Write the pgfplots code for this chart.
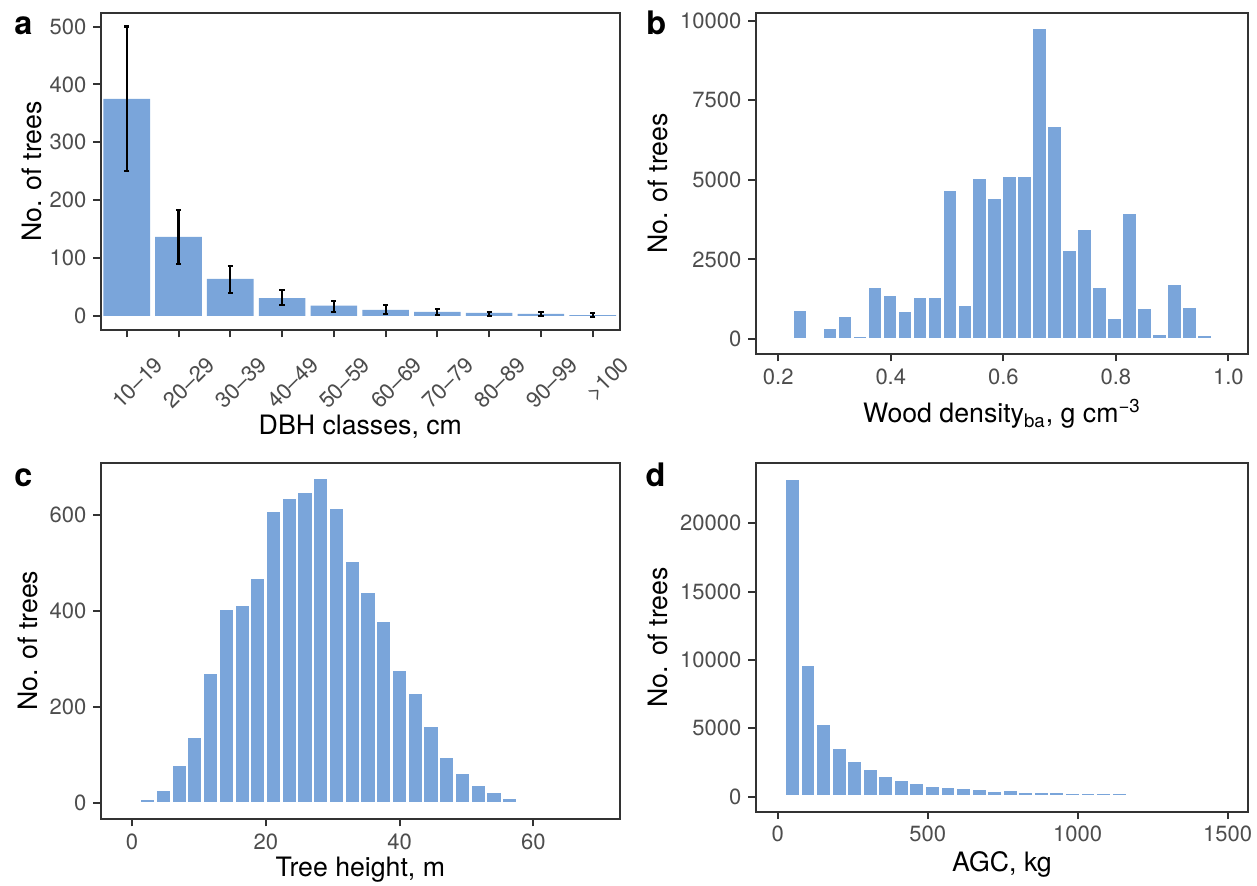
\documentclass[border=0pt]{standalone}
\usepackage{fontspec}
\setmainfont{TeX Gyre Heros}
\usepackage{pgfplots}
\usepackage{pgfplotstable}
\pgfplotsset{compat=1.18}
\definecolor{barblue}{RGB}{122,165,218}
\definecolor{axisgray}{RGB}{51,51,51}
\definecolor{tickgray}{RGB}{77,77,77}
\newcommand\tickfont{\fontsize{11}{13.2}\selectfont}
\newcommand\labfont{\fontsize{13.35}{16}\selectfont}
\newcommand\panelfont{\fontsize{16.2}{19}\selectfont\bfseries}

\pgfplotsset{
  panel/.style={
    scale only axis,
    scaled ticks=false,
    axis line style={draw=axisgray, line width=1pt},
    tick style={draw=axisgray, line width=1pt},
    major tick length=3.7pt,
    tick align=outside,
    tick pos=left,
    minor tick num=0,
    tick label style={font=\tickfont, text=tickgray},
    label style={font=\labfont, text=black},
  },
  histbar/.style={ybar, bar shift=0pt, fill=barblue, draw=white, line width=1.3pt},
}

% Panel b: wood density histogram (bin centre, count)
\pgfplotstableread{
x y
0.2385 934
0.2917 369
0.3184 725
0.3450 110
0.3716 1656
0.3982 1405
0.4248 903
0.4515 1332
0.4781 1332
0.5047 4689
0.5313 1070
0.5579 5055
0.5846 4440
0.6112 5118
0.6378 5129
0.6644 9773
0.6910 6687
0.7177 2820
0.7443 3465
0.7709 1640
0.7975 683
0.8241 3968
0.8508 986
0.8774 175
0.9040 1735
0.9306 1015
0.9572 125
}\tabB

% Panel c: tree height histogram
\pgfplotstableread{
x y
2.34 10
4.69 28
7.05 81
9.40 138
11.75 271
14.11 405
16.46 413
18.81 469
21.16 610
23.52 636
25.87 649
28.22 677
30.58 615
32.93 506
35.28 440
37.64 380
39.99 278
42.34 230
44.69 161
47.05 96
49.40 63
51.75 39
54.11 24
56.46 12
}\tabC

% Panel d: AGC histogram
\pgfplotstableread{
x y
49.1 23271
101.0 9661
152.8 5320
204.7 3612
256.5 2637
308.4 2051
360.2 1515
412.1 1250
463.9 1050
515.8 840
567.6 750
619.5 680
671.3 560
723.2 440
775.0 480
826.9 380
878.7 370
930.6 330
982.4 310
1034.3 300
1086.1 285
1138.0 275
1189.8 255
1293.5 215
}\tabD

\begin{document}
\begin{tikzpicture}
\useasboundingbox (0,0) rectangle (628.5pt,-443pt);

% ---------------- a ----------------
\begin{axis}[panel,
  at={(50.35pt,-6.35pt)}, anchor=north west,
  width=259.65pt, height=158.65pt,
  xmin=0.497, xmax=10.527, ymin=-24.2, ymax=524,
  xtick={1,...,10},
  xticklabels={10\textendash19,20\textendash29,30\textendash39,40\textendash49,50\textendash59,60\textendash69,70\textendash79,80\textendash89,90\textendash99,>100},
  xticklabel style={xshift=19pt, yshift=-14.5pt, rotate=45, anchor=base east, inner sep=0pt},
  ytick={0,100,200,300,400,500},
  yticklabels={0,100,200,300,400,500},
  xlabel={DBH classes, cm},
  ylabel={No. of trees},
  x label style={at={(axis description cs:0.5,-0.3309)}, anchor=base},
  y label style={at={(axis description cs:-0.1321,0.5)}, anchor=center},
]
\addplot[ybar, bar width=0.9, bar shift=0pt, fill=barblue, draw=none,
  error bars/.cd, y dir=both, y explicit,
  error bar style={line width=1.1pt, draw=black},
  error mark options={line width=1.1pt, draw=black, mark size=1.3pt, rotate=90}]
coordinates {
  (1,375)  += (0,125)  -= (0,125)
  (2,136.5) += (0,46.5) -= (0,47)
  (3,64)   += (0,22.4) -= (0,23.7)
  (4,31)   += (0,14)   -= (0,11.4)
  (5,17.8) += (0,8.7)  -= (0,10.9)
  (6,10.4) += (0,8)    -= (0,7.5)
  (7,6.9)  += (0,4.6)  -= (0,5.2)
  (8,5.2)  += (0,2.3)  -= (0,4.6)
  (9,3.5)  += (0,2.8)  -= (0,3.5)
  (10,1.7) += (0,3.5)  -= (0,2.9)
};
\end{axis}

% ---------------- b ----------------
\begin{axis}[panel,
  at={(377.85pt,-6.35pt)}, anchor=north west,
  width=246.3pt, height=170.65pt,
  xmin=0.1599, xmax=1.0354, ymin=-471, ymax=10251,
  xtick={0.2,0.4,0.6,0.8,1.0},
  xticklabels={0.2,0.4,0.6,0.8,1.0},
  ytick={0,2500,5000,7500,10000},
  yticklabels={0,2500,5000,7500,10000},
  xlabel={Wood density\textsubscript{ba}, g cm\textsuperscript{\textminus3}},
  ylabel={No. of trees},
  x label style={at={(axis description cs:0.5,-0.2013)}, anchor=base},
  y label style={at={(axis description cs:-0.1985,0.5)}, anchor=center},
]
\addplot[histbar, bar width=0.02662] table[x=x,y=y] {\tabB};
\end{axis}

% ---------------- c ----------------
\begin{axis}[panel,
  at={(50.35pt,-231.35pt)}, anchor=north west,
  width=259.65pt, height=178.15pt,
  xmin=-4.675, xmax=72.95, ymin=-32.7, ymax=709,
  xtick={0,20,40,60},
  xticklabels={0,20,40,60},
  ytick={0,200,400,600},
  yticklabels={0,200,400,600},
  xlabel={Tree height, m},
  ylabel={No. of trees},
  x label style={at={(axis description cs:0.5,-0.162)}, anchor=base},
  y label style={at={(axis description cs:-0.141,0.5)}, anchor=center},
]
\addplot[histbar, bar width=2.353] table[x=x,y=y] {\tabC};
\end{axis}

% ---------------- d ----------------
\begin{axis}[panel,
  at={(377.85pt,-231.35pt)}, anchor=north west,
  width=246.3pt, height=174.5pt,
  xmin=-73.3, xmax=1568.7, ymin=-1098, ymax=24439,
  xtick={0,500,1000,1500},
  xticklabels={0,500,1000,1500},
  ytick={0,5000,10000,15000,20000},
  yticklabels={0,5000,10000,15000,20000},
  xlabel={AGC, kg},
  ylabel={No. of trees},
  x label style={at={(axis description cs:0.5,-0.1719)}, anchor=base},
  y label style={at={(axis description cs:-0.1985,0.5)}, anchor=center},
]
\addplot[histbar, bar width=51.85] table[x=x,y=y] {\tabD};
\end{axis}

\node[anchor=base west, font=\panelfont, inner sep=0pt] at (7pt,-17.5pt) {a};
\node[anchor=base west, font=\panelfont, inner sep=0pt] at (323pt,-17.5pt) {b};
\node[anchor=base west, font=\panelfont, inner sep=0pt] at (7pt,-243.35pt) {c};
\node[anchor=base west, font=\panelfont, inner sep=0pt] at (322.6pt,-243.35pt) {d};
\end{tikzpicture}
\end{document}
